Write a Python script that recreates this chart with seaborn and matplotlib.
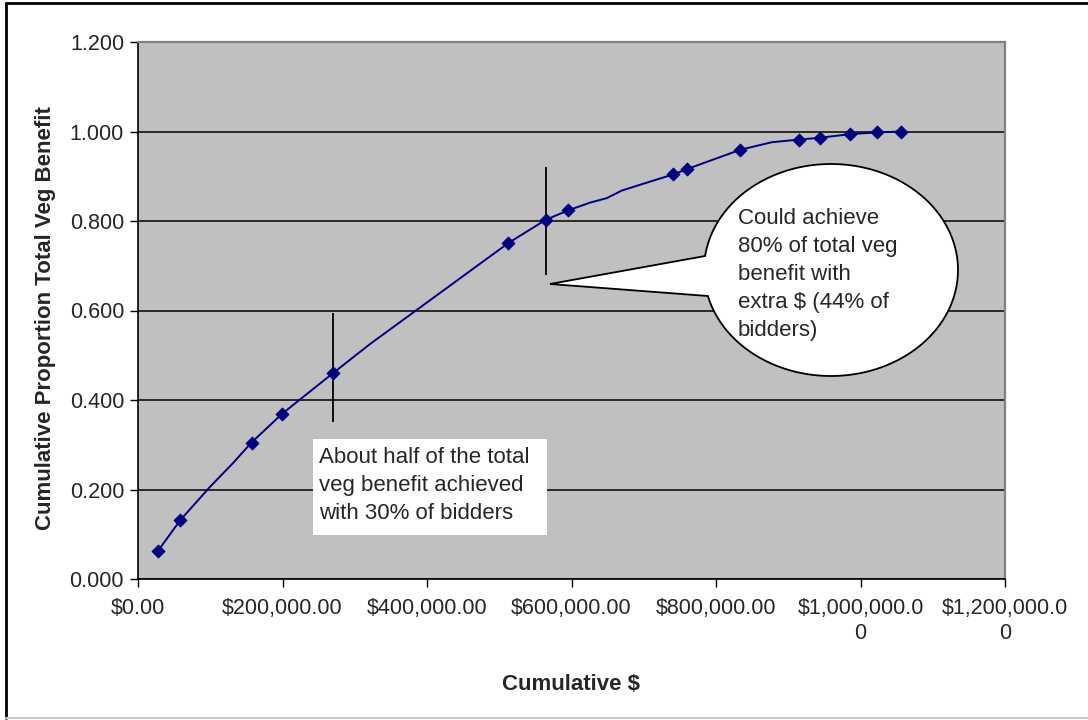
import numpy as np
import pandas as pd
import seaborn as sns
import matplotlib.pyplot as plt
from matplotlib.patches import Polygon, Rectangle
from matplotlib.lines import Line2D

# Cumulative spend of ranked bids and the cumulative share of vegetation benefit (marked bids)
cum_cost = [27700, 58800, 157100, 199300, 269900, 512800, 564700, 595800,
            740500, 759900, 833200, 914900, 943900, 985100, 1023300, 1056500]
cum_benefit = [0.063, 0.132, 0.305, 0.369, 0.460, 0.751, 0.803, 0.824,
               0.904, 0.916, 0.959, 0.982, 0.986, 0.994, 0.998, 1.000]

# Full cumulative curve, including the bids drawn without a marker
curve_cost = [27700, 58800, 99700, 131500, 157100, 199300, 269900, 321100,
              512800, 564700, 595800, 625600, 648700, 669500, 708700, 740500,
              759900, 833200, 877100, 914900, 943900, 985100, 1023300, 1056500]
curve_benefit = [0.063, 0.132, 0.206, 0.259, 0.305, 0.369, 0.460, 0.525,
                 0.751, 0.803, 0.824, 0.841, 0.851, 0.868, 0.888, 0.904,
                 0.916, 0.959, 0.976, 0.982, 0.986, 0.994, 0.998, 1.000]

x_ticks = [0, 200000, 400000, 600000, 800000, 1000000, 1200000]
x_tick_labels = ["$0.00", "$200,000.00", "$400,000.00", "$600,000.00",
                 "$800,000.00", "$1,000,000.0\n0", "$1,200,000.0\n0"]
y_ticks = [0.0, 0.2, 0.4, 0.6, 0.8, 1.0, 1.2]
y_tick_labels = ["0.000", "0.200", "0.400", "0.600", "0.800", "1.000", "1.200"]

half_note = "About half of the total\nveg benefit achieved\nwith 30% of bidders"
extra_note = "Could achieve\n80% of total veg\nbenefit with\nextra $ (44% of\nbidders)"

markers = pd.DataFrame({"cost": cum_cost, "benefit": cum_benefit})
curve = pd.DataFrame({"cost": curve_cost, "benefit": curve_benefit})

sns.set_theme(style="ticks")
plt.rcParams["font.family"] = ["Liberation Sans", "DejaVu Sans"]

NAVY = "#000080"
W, H = 1088, 720
# plot-area edges in figure pixels
AX_L, AX_R, AX_T, AX_B = 138, 1005, 42, 579

fig = plt.figure(figsize=(W / 100, H / 100), dpi=100)
fig.patch.set_facecolor("white")
ax = fig.add_axes([AX_L / W, 1 - AX_B / H, (AX_R - AX_L) / W, (AX_B - AX_T) / H])
ax.set_facecolor("#C0C0C0")

def px2ax(x, y):
    return ((x - AX_L) / (AX_R - AX_L), (AX_B - y) / (AX_B - AX_T))

sns.lineplot(data=curve, x="cost", y="benefit", sort=False, color=NAVY,
             linewidth=1.4, ax=ax, zorder=3)
sns.scatterplot(data=markers, x="cost", y="benefit", marker="D", s=42,
                color=NAVY, edgecolor=NAVY, linewidth=0.8, ax=ax, zorder=4)

ax.set_xlim(0, 1200000)
ax.set_ylim(0, 1.2)
ax.set_xticks(x_ticks)
ax.set_xticklabels(x_tick_labels, fontsize=15.5, linespacing=1.25)
ax.set_yticks(y_ticks)
ax.set_yticklabels(y_tick_labels, fontsize=15.5)
ax.tick_params(axis="both", direction="out", length=6, width=1, color="black")
ax.tick_params(axis="x", pad=8)
ax.tick_params(axis="y", pad=4)
ax.yaxis.grid(True, color="black", linewidth=1.1)
ax.xaxis.grid(False)
ax.set_axisbelow(True)

for side in ("left", "bottom"):
    ax.spines[side].set_color("black")
    ax.spines[side].set_linewidth(1.2)
for side in ("top", "right"):
    ax.spines[side].set_color("#808080")
    ax.spines[side].set_linewidth(1.6)

ax.set_xlabel("Cumulative $", fontsize=16, fontweight="bold")
ax.set_ylabel("Cumulative Proportion Total Veg Benefit", fontsize=16,
              fontweight="bold")
ax.xaxis.set_label_coords(*px2ax(571, 674))
ax.yaxis.set_label_coords(*px2ax(56, 318))

# Reference cursors at the 30% and 44% bidder marks
ax.vlines(cum_cost[4], 0.351, 0.594, color="black", linewidth=1.3, zorder=3)
ax.vlines(cum_cost[6], 0.679, 0.921, color="black", linewidth=1.3, zorder=3)

# Boxed note under the curve
bx0, by0 = px2ax(313, 535)
bx1, by1 = px2ax(547, 439)
ax.add_patch(Rectangle((bx0, by0), bx1 - bx0, by1 - by0, transform=ax.transAxes,
                       facecolor="white", edgecolor="none", zorder=5))
tx, ty = px2ax(319, 447)
ax.text(tx, ty, half_note, transform=ax.transAxes, ha="left", va="top",
        fontsize=16, linespacing=1.43, zorder=6)

# Speech-bubble callout
cx, cy, ra, rb = 831, 270, 127, 106
t1 = np.pi - np.arcsin((cy - 256) / rb)
t2 = np.pi + np.arcsin((296 - cy) / rb)
ts = np.linspace(t1, t2 - 2 * np.pi, 200)
pts = [px2ax(cx + ra * np.cos(t), cy - rb * np.sin(t)) for t in ts]
pts.append(px2ax(550, 284))
bubble = Polygon(pts, closed=True, transform=ax.transAxes, facecolor="white",
                 edgecolor="black", linewidth=1.3, zorder=6, clip_on=False)
ax.add_patch(bubble)
bx, by = px2ax(738, 208)
ax.text(bx, by, extra_note, transform=ax.transAxes, ha="left", va="top",
        fontsize=16, linespacing=1.43, zorder=7)

# Outer chart frame
fig.add_artist(Line2D([6 / W, 1], [1 - 3 / H, 1 - 3 / H], color="black", linewidth=2,
                      transform=fig.transFigure))
fig.add_artist(Line2D([6 / W, 6 / W], [1 - 3 / H, 1 - 718 / H], color="black", linewidth=2,
                      transform=fig.transFigure))
fig.add_artist(Line2D([6 / W, 1], [1 - 718 / H, 1 - 718 / H], color="#C8C8C8", linewidth=1.5,
                      transform=fig.transFigure))

fig.savefig("out.png", dpi=100, facecolor="white")
